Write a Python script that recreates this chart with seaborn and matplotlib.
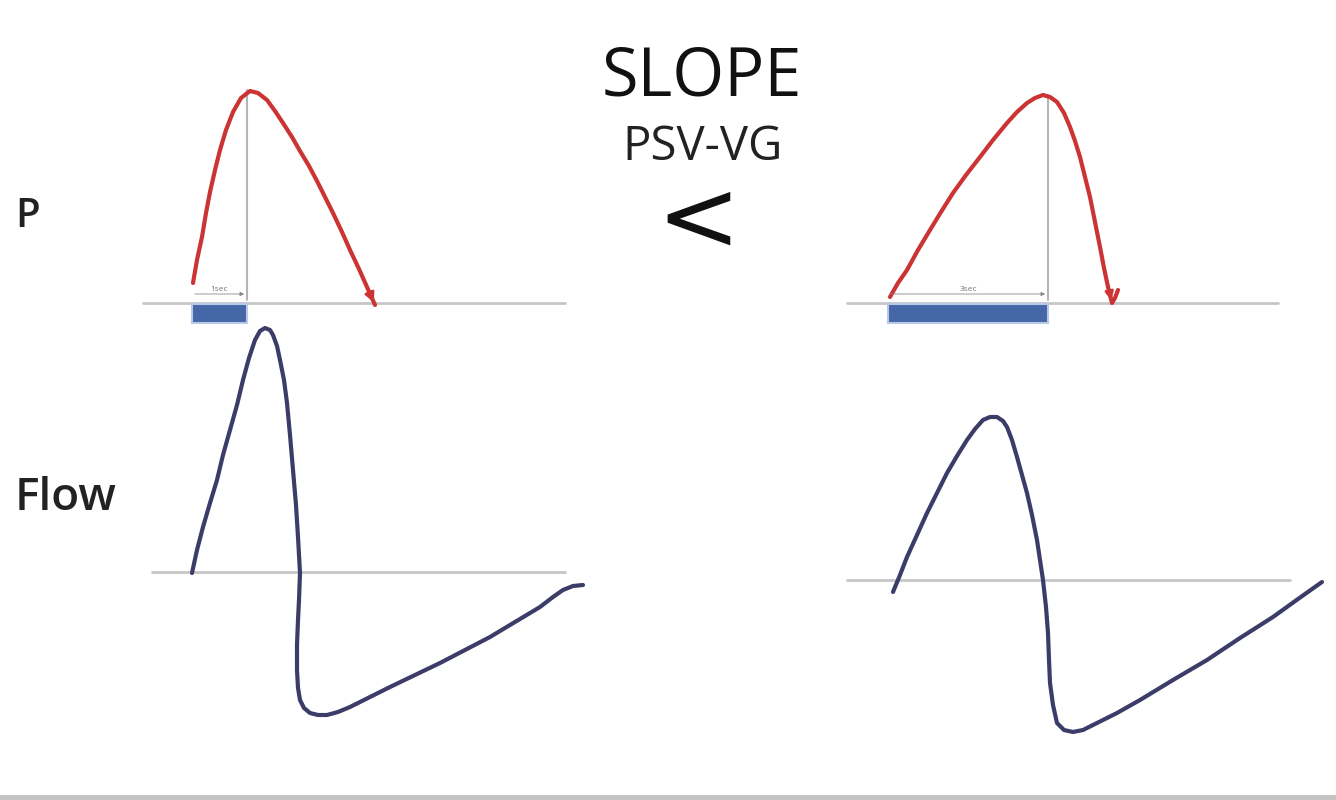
"""Slope comparison: pressure and flow waveforms for two rise times."""

import matplotlib

matplotlib.use("Agg")
import matplotlib.pyplot as plt
import seaborn as sns

# pressure curve, short slope (left panel), figure pixel units
p_fast_x = [193, 197, 202, 206, 210, 215, 220, 226, 233, 241, 250, 258, 267, 275, 283, 292,
            300, 309, 317, 325, 333, 342, 350, 359, 367, 375]
p_fast_y = [283, 260, 237, 213, 192, 170, 150, 130, 112, 98, 91, 93, 100, 111, 123, 137,
            151, 166, 181, 197, 213, 232, 250, 269, 287, 305]

# pressure curve, long slope (right panel)
p_slow_x = [890, 898, 907, 918, 930, 941, 953, 966, 980, 993, 1007, 1017, 1027, 1035, 1043,
            1050, 1057, 1064, 1070, 1075, 1080, 1085, 1090, 1095, 1100, 1104, 1108, 1112,
            1115, 1118]
p_slow_y = [297, 283, 270, 250, 230, 212, 193, 175, 157, 140, 123, 112, 103, 98, 95,
            97, 102, 113, 127, 141, 157, 177, 197, 222, 247, 268, 287, 303,
            298, 290]

# flow curve, short slope
f_fast_x = [192, 197, 203, 210, 217, 223, 230, 237, 243, 249, 255, 260, 265, 270, 273, 277,
            280, 284, 287, 290, 293, 296, 298, 300, 299, 298, 297, 297, 298, 300, 304, 310,
            318, 327, 338, 350, 370, 390, 415, 440, 465, 490, 515, 540, 553, 563, 573, 583]
f_fast_y = [573, 550, 527, 503, 480, 455, 430, 405, 380, 358, 340, 331, 328, 330, 335, 346,
            360, 380, 403, 435, 470, 505, 537, 573, 600, 620, 645, 670, 688, 700, 708, 713,
            715, 715, 712, 707, 697, 687, 675, 663, 650, 637, 622, 607, 597, 590, 586, 585]

# flow curve, long slope
f_slow_x = [893, 900, 907, 917, 927, 937, 947, 957, 967, 975, 983, 990, 997, 1003, 1007,
            1012, 1017, 1022, 1027, 1032, 1037, 1040, 1043, 1046, 1048, 1049, 1050, 1053,
            1057, 1064, 1073, 1083, 1093, 1117, 1140, 1173, 1207, 1240, 1273, 1298, 1322]
f_slow_y = [592, 575, 557, 535, 513, 493, 473, 456, 440, 429, 420, 417, 417, 421, 427,
            440, 457, 475, 493, 515, 540, 560, 580, 607, 633, 660, 683, 705,
            723, 730, 732, 730, 725, 713, 700, 680, 660, 638, 617, 599, 582]

# baselines: (x start, x end, y)
baseline_x0 = [143, 847, 152, 847]
baseline_x1 = [565, 1278, 565, 1290]
baseline_y = [303, 303, 572, 580]

# rise time bars and peak markers
rise_start = [192, 888]
rise_end = [247, 1048]
peak_top = [90, 95]
rise_labels = ["1sec", "3sec"]

RED = "#cc3333"
NAVY = "#3b3d68"
GREY = "#c6c6c6"
BLUE = "#4567a8"

sns.set_theme(style="white")
plt.rcParams["font.family"] = ["Open Sans", "DejaVu Sans"]

fig = plt.figure(figsize=(13.36, 8), dpi=100)
ax = fig.add_axes([0, 0, 1, 1])
ax.set_xlim(0, 1336)
ax.set_ylim(800, 0)
ax.axis("off")

for x0, x1, y in zip(baseline_x0, baseline_x1, baseline_y):
    ax.plot([x0, x1], [y, y], color=GREY, lw=2, zorder=1)

# rise time bars, dimension arrows and peak verticals
for x0, x1, top, lab in zip(rise_start, rise_end, peak_top, rise_labels):
    ax.barh(313, x1 - x0, left=x0, height=19, color=BLUE, edgecolor="#b8c8e6", lw=1.5, zorder=2)
    ax.plot([x1, x1], [top, 300], color="#b5b5b5", lw=1.5, zorder=1)
    ax.annotate("", xy=(x1, 294), xytext=(x0, 294),
                arrowprops=dict(arrowstyle="-|>", color="#888888", lw=0.6, mutation_scale=6))
    ax.text((x0 + x1) / 2, 291, lab, ha="center", va="baseline", fontsize=6, color="#777777")

sns.lineplot(x=p_fast_x, y=p_fast_y, sort=False, estimator=None, color=RED, lw=3, ax=ax)
sns.lineplot(x=p_slow_x, y=p_slow_y, sort=False, estimator=None, color=RED, lw=3, ax=ax)
sns.lineplot(x=f_fast_x, y=f_fast_y, sort=False, estimator=None, color=NAVY, lw=3, ax=ax)
sns.lineplot(x=f_slow_x, y=f_slow_y, sort=False, estimator=None, color=NAVY, lw=3, ax=ax)

# arrow heads at end of pressure curves
ax.annotate("", xy=(p_fast_x[-1], p_fast_y[-1]), xytext=(p_fast_x[-3], p_fast_y[-3]),
            arrowprops=dict(arrowstyle="-|>", color=RED, lw=2, mutation_scale=14))
ax.annotate("", xy=(p_slow_x[-3], p_slow_y[-3]), xytext=(p_slow_x[-5], p_slow_y[-5]),
            arrowprops=dict(arrowstyle="-|>", color=RED, lw=2, mutation_scale=12))

ax.text(702, 95, "SLOPE", ha="center", va="baseline", fontsize=48, color="#111111")
ax.text(703, 160, "PSV-VG", ha="center", va="baseline", fontsize=34, color="#222222")
ax.text(698, 222, "<", ha="center", va="center", fontsize=72, family=["DejaVu Sans"],
        color="#111111")
ax.text(15, 227, "P", ha="left", va="baseline", fontsize=29, fontweight="semibold", color="#222222")
ax.text(15, 510, "Flow", ha="left", va="baseline", fontsize=33, fontweight="semibold", color="#222222")

# grey strip along the bottom edge
ax.axhspan(795, 800, color="#c3c3c3", lw=0)

fig.savefig("out.png", dpi=100)
plt.close(fig)
